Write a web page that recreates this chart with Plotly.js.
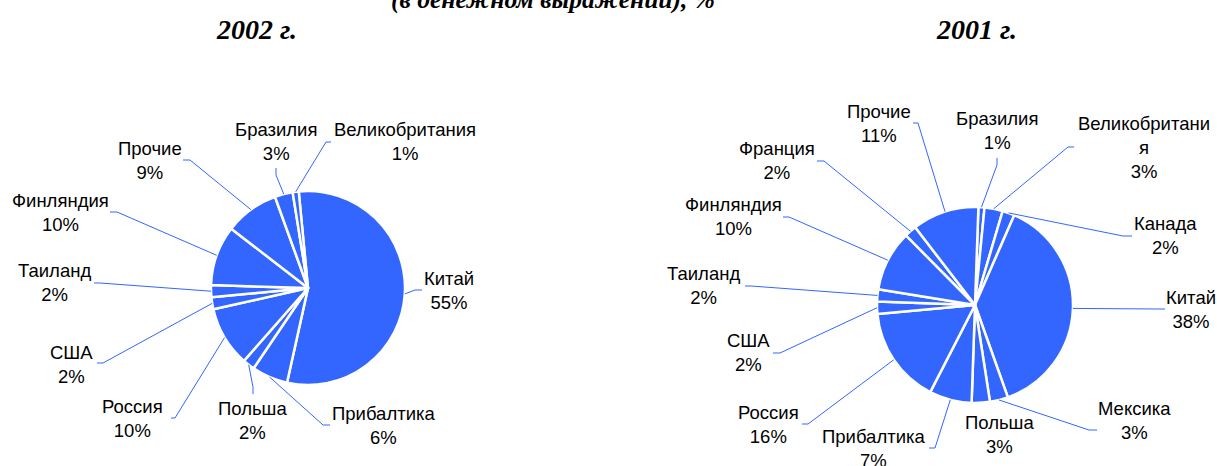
<!DOCTYPE html>
<html>
<head>
<meta charset="utf-8">
<script src="https://cdn.plot.ly/plotly-3.0.1.min.js"></script>
<style>
html,body{margin:0;padding:0;background:#ffffff;}
#chart{width:1217px;height:466px;}
</style>
</head>
<body>
<div id="chart"></div>
<script>
// ---------- DATA ----------
const titleMain = "(в денежном выражении), %";
const yearTitles = ["2002 г.", "2001 г."];

const countries2002 = ["Китай","Прибалтика","Польша","Россия","США","Таиланд","Финляндия","Прочие","Бразилия","Великобритания"];
const values2002    = [55, 6, 2, 10, 2, 2, 10, 9, 3, 1];

const countries2001 = ["Бразилия","Великобритания","Канада","Китай","Мексика","Польша","Прибалтика","Россия","США","Таиланд","Финляндия","Франция","Прочие"];
const values2001    = [1, 3, 2, 38, 3, 3, 7, 16, 2, 2, 10, 2, 11];
// label wording as printed (word wrapped in the original)
const labelNames2001 = ["Бразилия","Великобритани<br>я","Канада","Китай","Мексика","Польша","Прибалтика","Россия","США","Таиланд","Финляндия","Франция","Прочие"];

// ---------- LAYOUT (pixels) ----------
const W = 1217, H = 466;
const BLUE = "rgb(51,102,255)";
const pieGeom = [
  {cx: 308, cy: 288, r: 97, rot: -5.5},
  {cx: 975, cy: 305, r: 98, rot: 2}
];
// label centre, leader attach point (next to label), stub end
const labelPos2002 = [[449,290],[383,425],[252,420],[132,418],[71,364],[54,282],[60,212],[150,160],[276,141],[405,141]];
const attach2002   = [[422,290],[330,425],[253,394],[171,418],[97,363],[94,283],[110,212],[183,160],[276,168],[331,142]];
const stub2002     = [[415,290],[323,425],[253,387],[175,418],[103,363],[100,283],[117,212],[190,160],[276,175],[326,142]];

const labelPos2001 = [[997,130],[1144,147],[1165,235],[1191,309],[1134,420],[999,434],[874,448],[768,424],[749,352],[703,285],[733,216],[777,160],[879,123]];
const attach2001   = [[997,158],[1074,147],[1132,236],[1165,309],[1097,430],null,[929,448],[802,424],[773,353],[745,286],[783,217],[817,161],[913,123]];
const stub2001     = [[997,165],[1068,147],[1123,236],[1158,309],[1089,430],null,[935,448],[808,424],[780,353],[751,286],[789,217],[824,161],[918,123]];

// ---------- HELPERS ----------
const px = x => x / W;
const py = y => 1 - y / H;

function domainOf(g){
  return {x: [px(g.cx - g.r), px(g.cx + g.r)], y: [py(g.cy + g.r), py(g.cy - g.r)]};
}
function edgePoints(values, g){
  const total = values.reduce((a,b)=>a+b,0);
  let cum = 0;
  return values.map(v => {
    const frac = (cum + v/2) / total;
    cum += v;
    const a = (g.rot + 360*frac) * Math.PI/180;
    return [g.cx + g.r*Math.sin(a), g.cy - g.r*Math.cos(a)];
  });
}

const traces = [
  {type:'pie', labels: countries2002, values: values2002, sort:false, direction:'clockwise',
   rotation: pieGeom[0].rot, domain: domainOf(pieGeom[0]), textinfo:'none', hoverinfo:'none',
   marker:{colors: countries2002.map(()=>BLUE), line:{color:'#ffffff', width:2.5}}, showlegend:false},
  {type:'pie', labels: countries2001, values: values2001, sort:false, direction:'clockwise',
   rotation: pieGeom[1].rot, domain: domainOf(pieGeom[1]), textinfo:'none', hoverinfo:'none',
   marker:{colors: countries2001.map(()=>BLUE), line:{color:'#ffffff', width:2.5}}, showlegend:false}
];

const annotations = [];
const shapes = [];
const labelFont = {family:"'Liberation Sans', Arial, sans-serif", size:18.5, color:'#000000'};
const titleFont = {family:"'Liberation Serif', 'Times New Roman', serif", size:28, color:'#000000'};
const mainTitleFont = {family:"'Liberation Serif', 'Times New Roman', serif", size:25.5, color:'#000000'};

function addPie(names, values, labelPos, attach, stub, g){
  const edges = edgePoints(values, g);
  names.forEach((n,i) => {
    annotations.push({xref:'paper', yref:'paper', x: px(labelPos[i][0]), y: py(labelPos[i][1]),
      xanchor:'center', yanchor:'middle', showarrow:false, align:'center',
      text: n + "<br>" + values[i] + "%", font: labelFont});
    if (attach[i]) {
      const e = edges[i];
      shapes.push({type:'path', xref:'paper', yref:'paper',
        path: `M ${px(attach[i][0])} ${py(attach[i][1])} L ${px(stub[i][0])} ${py(stub[i][1])} L ${px(e[0])} ${py(e[1])}`,
        line:{color: BLUE, width:1}});
    }
  });
}
addPie(countries2002, values2002, labelPos2002, attach2002, stub2002, pieGeom[0]);
addPie(labelNames2001, values2001, labelPos2001, attach2001, stub2001, pieGeom[1]);

annotations.push({xref:'paper', yref:'paper', x: px(553), y: py(-17), xanchor:'center', yanchor:'top',
  showarrow:false, text: "<b><i>" + titleMain + "</i></b>", font: mainTitleFont});
annotations.push({xref:'paper', yref:'paper', x: px(256), y: py(12), xanchor:'center', yanchor:'top',
  showarrow:false, text: "<b><i>" + yearTitles[0] + "</i></b>", font: titleFont});
annotations.push({xref:'paper', yref:'paper', x: px(976), y: py(12), xanchor:'center', yanchor:'top',
  showarrow:false, text: "<b><i>" + yearTitles[1] + "</i></b>", font: titleFont});

const layout = {
  width: W, height: H,
  margin: {l:0, r:0, t:0, b:0},
  paper_bgcolor: '#ffffff', plot_bgcolor: '#ffffff',
  showlegend: false,
  annotations: annotations,
  shapes: shapes
};

Plotly.newPlot('chart', traces, layout, {displayModeBar:false, staticPlot:true});
</script>
</body>
</html>
